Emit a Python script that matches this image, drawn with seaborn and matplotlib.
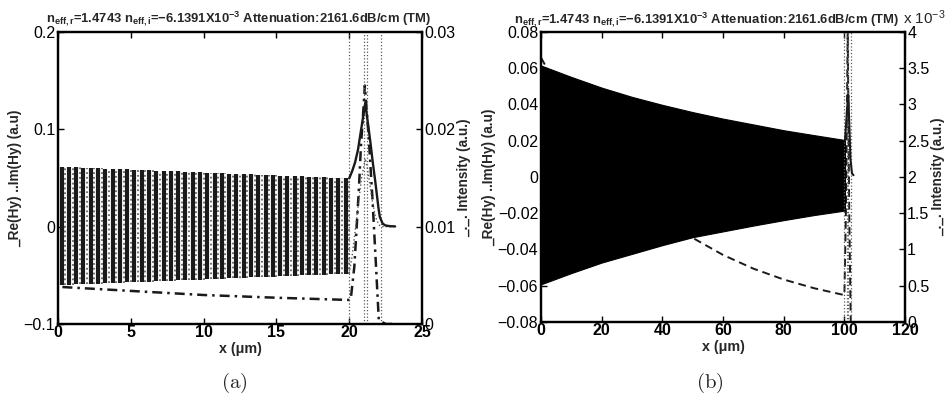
import numpy as np
import matplotlib
matplotlib.use("Agg")
import matplotlib.pyplot as plt
import seaborn as sns
from matplotlib.ticker import FuncFormatter

# ---------------- data : panel (a) ----------------
a_re_x = [0.25, 0.75, 1.25, 1.75, 2.25, 2.75, 3.25, 3.75, 4.25, 4.75,
          5.25, 5.75, 6.25, 6.75, 7.25, 7.75, 8.25, 8.75, 9.25, 9.75,
          10.25, 10.75, 11.25, 11.75, 12.25, 12.75, 13.25, 13.75, 14.25, 14.75,
          15.25, 15.75, 16.25, 16.75, 17.25, 17.75, 18.25, 18.75, 19.25, 19.75]
a_im_x = [0.5, 1.0, 1.5, 2.0, 2.5, 3.0, 3.5, 4.0, 4.5, 5.0,
          5.5, 6.0, 6.5, 7.0, 7.5, 8.0, 8.5, 9.0, 9.5, 10.0,
          10.5, 11.0, 11.5, 12.0, 12.5, 13.0, 13.5, 14.0, 14.5, 15.0,
          15.5, 16.0, 16.5, 17.0, 17.5, 18.0, 18.5, 19.0, 19.5, 20.0]
a_upper = [0.0615, 0.0612, 0.0609, 0.0606, 0.0603, 0.0600, 0.0597, 0.0594, 0.0591, 0.0588,
           0.0585, 0.0582, 0.0579, 0.0576, 0.0573, 0.0570, 0.0567, 0.0564, 0.0561, 0.0558,
           0.0555, 0.0552, 0.0549, 0.0546, 0.0543, 0.0540, 0.0537, 0.0534, 0.0531, 0.0528,
           0.0525, 0.0522, 0.0519, 0.0516, 0.0513, 0.0510, 0.0507, 0.0504, 0.0501, 0.0498]
a_lower = [-0.0600, -0.0597, -0.0594, -0.0591, -0.0588, -0.0585, -0.0582, -0.0579, -0.0576, -0.0573,
           -0.0570, -0.0567, -0.0564, -0.0561, -0.0558, -0.0555, -0.0552, -0.0549, -0.0546, -0.0543,
           -0.0540, -0.0537, -0.0534, -0.0531, -0.0528, -0.0525, -0.0522, -0.0519, -0.0516, -0.0513,
           -0.0510, -0.0507, -0.0504, -0.0501, -0.0498, -0.0495, -0.0492, -0.0489, -0.0486, -0.0483]
a_peak_x = [20.0, 20.2, 20.4, 20.6, 20.85, 21.1, 21.25, 21.45, 21.6, 21.8, 22.0, 22.1, 22.3, 22.5, 22.8, 23.15]
a_peak_re = [0.0497, 0.057, 0.066, 0.079, 0.103, 0.127, 0.110, 0.087, 0.068, 0.045, 0.020, 0.010, 0.003, 0.0012, 0.0005, 0.0003]
a_peak_im = [-0.048, -0.030, -0.005, 0.020, 0.050, 0.070, 0.060, 0.040, 0.025, 0.010, 0.003, 0.001, 0.0, 0.0, 0.0, 0.0]
a_int_x = [0.3, 5, 10, 15, 20, 20.1, 20.35, 20.5, 20.67, 20.8, 20.97, 21.07, 21.35, 21.6, 21.84, 22.03, 22.5, 23.0]
a_int = [0.0038, 0.0034, 0.00298, 0.0027, 0.00247, 0.0025, 0.0059, 0.0097, 0.0141, 0.0182,
         0.0220, 0.0245, 0.0189, 0.0127, 0.0059, 0.0004, 0.0, 0.0]
a_layers = [20.0, 21.0, 21.2, 22.2]

# ---------------- data : panel (b) ----------------
b_env_x = [0, 10, 20, 30, 40, 50, 60, 70, 80, 90, 100.2]
b_upper = [0.0615, 0.0552, 0.0493, 0.0442, 0.0398, 0.0358, 0.0322, 0.0290, 0.0258, 0.0231, 0.0204]
b_lower = [-0.0592, -0.0530, -0.0472, -0.0424, -0.0376, -0.0332, -0.0300, -0.0268, -0.0238, -0.0210, -0.0185]
b_peak_x = [100.2, 100.6, 101.0, 101.3, 101.6, 102.0, 102.5, 103.0]
b_peak_re = [0.0204, 0.030, 0.040, 0.045, 0.030, 0.010, 0.002, 0.001]
b_int_x = [0, 10, 20, 30, 40, 50, 60, 70, 80, 90, 100, 100.5, 101.1, 101.6, 102.1, 103.0]
b_int = [0.003645, 0.00290, 0.00231, 0.00184, 0.00146, 0.00116, 0.000925, 0.000736, 0.000586,
         0.000466, 0.000371, 0.0015, 0.0040, 0.0015, 0.0, 0.0]
b_layers = [100.0, 101.0, 101.2, 102.2]

title_txt = (r"n$_{\mathbf{eff,r}}$=1.4743 n$_{\mathbf{eff,i}}$=$\mathbf{-}$6.1391X10$^{\mathbf{-3}}$"
             r" Attenuation:2161.6dB/cm (TM)")
left_label = "_Re(Hy) ..Im(Hy) (a.u)"
right_label = "_._. Intensity (a.u.)"
x_label = "x (\u03bcm)"

# ---------------- style ----------------
sns.set_theme(style="white")
plt.rcParams.update({
    "font.family": ["Liberation Sans", "DejaVu Sans"],
    "mathtext.fontset": "custom",
    "mathtext.rm": "Liberation Sans",
    "mathtext.bf": "Liberation Sans:bold",
    "mathtext.it": "Liberation Sans:italic",
    "axes.edgecolor": "black",
    "axes.linewidth": 1.6,
    "xtick.direction": "in",
    "ytick.direction": "in",
    "xtick.color": "black",
    "ytick.color": "black",
})

fig = plt.figure(figsize=(9.48, 4.03), dpi=100)
fig.patch.set_facecolor("white")

DASHDOT = (0, (4, 2, 1, 2))
TICK_FS = 11.5
LAB_FS = 9.8


def style_axes(ax, tw, xlim, xticks, ylim, yticks, y2lim, y2ticks, y2fmt, title_x):
    ax.set_xlim(*xlim)
    ax.set_ylim(*ylim)
    ax.set_xticks(xticks)
    ax.set_yticks(yticks)
    ax.yaxis.set_major_formatter(FuncFormatter(lambda v, p: ("%g" % round(v, 6)).replace("-", "\u2212")))
    tw.set_ylim(*y2lim)
    tw.set_yticks(y2ticks)
    tw.yaxis.set_major_formatter(FuncFormatter(y2fmt))
    ax.tick_params(axis="both", which="both", direction="in", length=4.5, width=1.0,
                   top=True, right=False, left=True, bottom=True, labelsize=TICK_FS, pad=2)
    ax.tick_params(axis="x", pad=0.5)
    for lab in ax.get_xticklabels():
        lab.set_fontweight("bold")
    tw.tick_params(axis="y", direction="in", length=4.5, width=1.0, right=True, left=False,
                   labelsize=TICK_FS, pad=1.5)
    ax.set_xlabel(x_label, fontsize=LAB_FS + 0.5, fontweight="bold", labelpad=1.5)
    ax.set_ylabel(left_label, fontsize=LAB_FS, fontweight="bold", labelpad=1)
    tw.set_ylabel(right_label, fontsize=LAB_FS, fontweight="bold", labelpad=1)
    ax.text(title_x, 1.012, title_txt, transform=ax.transAxes, fontsize=9.4,
            fontweight="bold", ha="center", va="bottom")
    for s in list(ax.spines.values()) + list(tw.spines.values()):
        s.set_linewidth(1.6)
        s.set_color("black")
    ax.set_zorder(tw.get_zorder() + 1)
    ax.patch.set_visible(False)


# ---------------- panel (a) ----------------
axa = fig.add_axes([0.0612, 0.196, 0.384, 0.7246])
twa = axa.twinx()

for xl in a_layers:
    axa.axvline(xl, color="0.35", ls=":", lw=0.9)
axa.vlines(a_im_x, a_lower, a_upper, colors="0.4", linestyles=":", lw=1.3)
axa.vlines(a_re_x, a_lower, a_upper, colors="k", lw=3.0)
sns.lineplot(x=a_peak_x, y=a_peak_im, ax=axa, color="0.35", lw=1.0, ls=":", sort=False, estimator=None)
sns.lineplot(x=a_peak_x, y=a_peak_re, ax=axa, color="k", lw=1.7, sort=False, estimator=None)
sns.lineplot(x=a_int_x, y=a_int, ax=twa, color="k", lw=1.8, ls=DASHDOT, sort=False, estimator=None)

style_axes(axa, twa, (0, 25), [0, 5, 10, 15, 20, 25], (-0.1, 0.2), [-0.1, 0, 0.1, 0.2],
           (0, 0.03), [0, 0.01, 0.02, 0.03], lambda v, p: "%g" % round(v, 6), 0.495)

# ---------------- panel (b) ----------------
axb = fig.add_axes([0.5707, 0.201, 0.384, 0.7196])
twb = axb.twinx()

for xl in b_layers:
    axb.axvline(xl, color="0.35", ls=":", lw=0.9)
axb.fill_between(b_env_x, b_lower, b_upper, facecolor="#000000", edgecolor="#000000", lw=0.8, alpha=1.0)
sns.lineplot(x=b_peak_x, y=b_peak_re, ax=axb, color="k", lw=1.5, sort=False, estimator=None)
sns.lineplot(x=b_int_x, y=b_int, ax=twb, color="k", lw=1.4, ls=(0, (4, 2.5)), sort=False, estimator=None)

style_axes(axb, twb, (0, 120), [0, 20, 40, 60, 80, 100, 120],
           (-0.08, 0.08), [-0.08, -0.06, -0.04, -0.02, 0, 0.02, 0.04, 0.06, 0.08],
           (0, 0.004), [0, 0.0005, 0.001, 0.0015, 0.002, 0.0025, 0.003, 0.0035, 0.004],
           lambda v, p: "%g" % round(v * 1e3, 4), 0.455)
fig.text(903 / 948, 1 - 24 / 403, r"x 10$^{\mathrm{-3}}$", fontsize=TICK_FS - 0.5, ha="left", va="baseline")

# captions
fig.text(234 / 948, 1 - 383 / 403, r"$\mathrm{(a)}$", math_fontfamily="cm", fontsize=15, ha="center", va="center")
fig.text(710 / 948, 1 - 383 / 403, r"$\mathrm{(b)}$", math_fontfamily="cm", fontsize=15, ha="center", va="center")

fig.savefig("out.png", dpi=100, facecolor="white")
